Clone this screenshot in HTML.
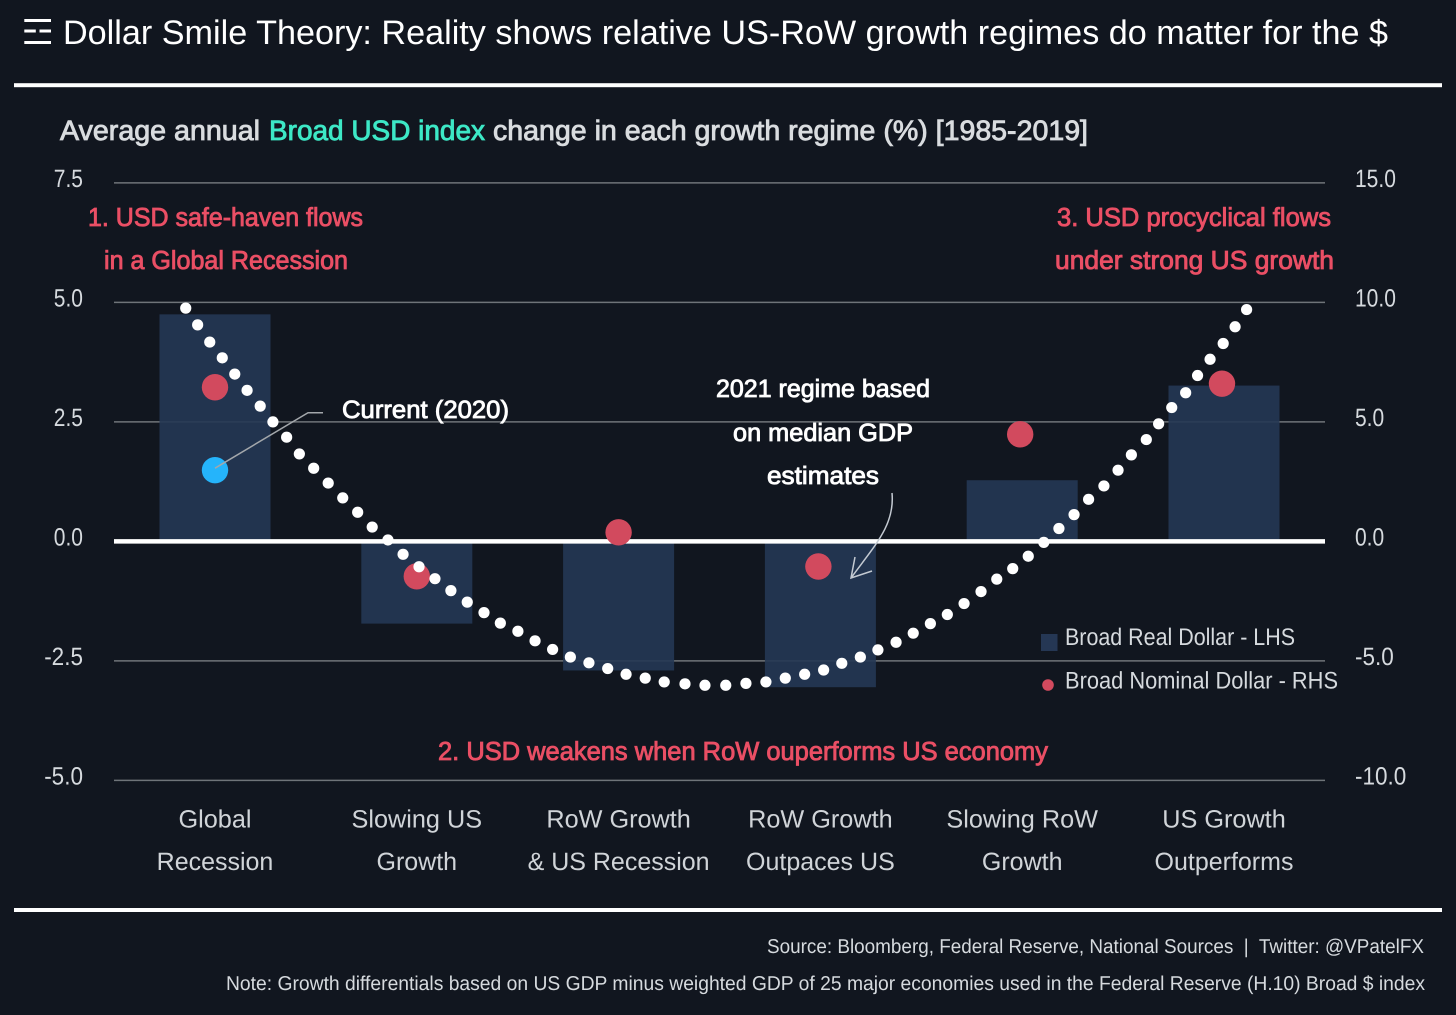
<!DOCTYPE html>
<html lang="en">
<head>
<meta charset="utf-8">
<title>Dollar Smile Theory</title>
<style>
html,body{margin:0;padding:0;background:#11161f;}
svg{display:block;font-family:"Liberation Sans",sans-serif;text-rendering:geometricPrecision;}
.med{stroke-width:.85px;}
</style>
</head>
<body>
<svg id="chart" xmlns="http://www.w3.org/2000/svg" width="1456" height="1015" viewBox="0 0 1456 1015">
  <rect x="0" y="0" width="1456" height="1015" fill="#11161f"/>
  <g fill="#ffffff">
    <rect x="24.3" y="19" width="26.7" height="3"/>
    <rect x="24.3" y="29.5" width="11.5" height="3"/>
    <rect x="39.5" y="29.5" width="11.5" height="3"/>
    <rect x="24.3" y="41" width="26.7" height="3"/>
  </g>
  <text x="63" y="44" font-size="34" fill="#ffffff" textLength="1325" lengthAdjust="spacingAndGlyphs">Dollar Smile Theory: Reality shows relative US-RoW growth regimes do matter for the $</text>
  <rect x="14" y="83.2" width="1428" height="4" fill="#ffffff"/>

  <text class="med" x="60" y="140" font-size="28" fill="#d9dcdf" stroke="#d9dcdf" textLength="200" lengthAdjust="spacingAndGlyphs">Average annual</text>
  <text class="med" x="269" y="140" font-size="28" fill="#3de8c6" stroke="#3de8c6" textLength="216" lengthAdjust="spacingAndGlyphs">Broad USD index</text>
  <text class="med" x="493" y="140" font-size="28" fill="#d9dcdf" stroke="#d9dcdf" textLength="595" lengthAdjust="spacingAndGlyphs">change in each growth regime (%) [1985-2019]</text>

  <g id="grid"></g>
  <g id="bars"></g>
  <g id="zero"></g>
  <g id="nominal"></g>
  <g id="current"></g>
  <g id="smile"></g>
  <g id="ticksL"></g>
  <g id="ticksR"></g>
  <g id="cats"></g>

  <text class="med" x="88" y="226" font-size="26" fill="#ea4f65" stroke="#ea4f65" textLength="275" lengthAdjust="spacingAndGlyphs">1. USD safe-haven flows</text>
  <text class="med" x="104" y="269" font-size="26" fill="#ea4f65" stroke="#ea4f65" textLength="244" lengthAdjust="spacingAndGlyphs">in a Global Recession</text>
  <text class="med" x="1057" y="226" font-size="26" fill="#ea4f65" stroke="#ea4f65" textLength="274" lengthAdjust="spacingAndGlyphs">3. USD procyclical flows</text>
  <text class="med" x="1055" y="269" font-size="26" fill="#ea4f65" stroke="#ea4f65" textLength="279" lengthAdjust="spacingAndGlyphs">under strong US growth</text>
  <text class="med" x="438" y="760" font-size="26" fill="#ea4f65" stroke="#ea4f65" textLength="610" lengthAdjust="spacingAndGlyphs">2. USD weakens when RoW ouperforms US economy</text>

  <text class="med" x="342" y="418" font-size="25" fill="#ffffff" stroke="#ffffff" textLength="167" lengthAdjust="spacingAndGlyphs">Current (2020)</text>
  <text class="med" x="716" y="397" font-size="25" fill="#ffffff" stroke="#ffffff" textLength="214" lengthAdjust="spacingAndGlyphs">2021 regime based</text>
  <text class="med" x="733" y="441" font-size="25" fill="#ffffff" stroke="#ffffff" textLength="180" lengthAdjust="spacingAndGlyphs">on median GDP</text>
  <text class="med" x="767" y="484" font-size="25" fill="#ffffff" stroke="#ffffff" textLength="112" lengthAdjust="spacingAndGlyphs">estimates</text>
  <path d="M892 493 C895 525 875 545 851 578 M855 557 L851 578 L872 571" fill="none" stroke="#c4cad2" stroke-width="1.5"/>

  <rect x="1041" y="634" width="16.5" height="17" fill="#253754"/>
  <text x="1065" y="645" font-size="24" fill="#d6dade" textLength="230" lengthAdjust="spacingAndGlyphs">Broad Real Dollar - LHS</text>
  <circle cx="1048" cy="685" r="5.8" fill="#d24a5e"/>
  <text x="1065" y="688.5" font-size="24" fill="#d6dade" textLength="273" lengthAdjust="spacingAndGlyphs">Broad Nominal Dollar - RHS</text>

  <rect x="14" y="908" width="1428" height="4" fill="#ffffff"/>
  <text x="767" y="953" font-size="20" fill="#d6dade" textLength="657" lengthAdjust="spacingAndGlyphs">Source: Bloomberg, Federal Reserve, National Sources &#160;|&#160; Twitter: @VPatelFX</text>
  <text x="226" y="990" font-size="20" fill="#d6dade" textLength="1199" lengthAdjust="spacingAndGlyphs">Note: Growth differentials based on US GDP minus weighted GDP of 25 major economies used in the Federal Reserve (H.10) Broad $ index</text>
</svg>
<script>
var categoriesLine1 = ["Global", "Slowing US", "RoW Growth", "RoW Growth", "Slowing RoW", "US Growth"];
var categoriesLine2 = ["Recession", "Growth", "& US Recession", "Outpaces US", "Growth", "Outperforms"];
var realDollar = [4.75, -1.72, -2.70, -3.05, 1.28, 3.26];
var nominalPosition = [0, 1, 2, 2.99, 3.99, 4.99];
var nominalDollar = [6.45, -1.46, 0.38, -1.05, 4.48, 6.60];
var currentCategory = 0;
var currentReal = 1.49;
var leftTickValues = [7.5, 5, 2.5, 0, -2.5, -5];
var leftTickLabels = ["7.5", "5.0", "2.5", "0.0", "-2.5", "-5.0"];
var rightTickValues = [15, 10, 5, 0, -5, -10];
var rightTickLabels = ["15.0", "10.0", "5.0", "0.0", "-5.0", "-10.0"];
var smilePosition = [-0.145,-0.086,-0.026,0.036,0.098,0.159,0.224,0.287,0.355,0.418,0.489,0.561,0.633,0.707,0.779,0.857,0.932,1.011,1.090,1.169,1.250,1.333,1.414,1.501,1.586,1.673,1.761,1.853,1.946,2.037,2.132,2.226,2.329,2.428,2.531,2.631,2.730,2.826,2.922,3.016,3.106,3.198,3.285,3.375,3.460,3.545,3.629,3.712,3.796,3.874,3.953,4.030,4.107,4.182,4.257,4.329,4.405,4.475,4.541,4.615,4.676,4.741,4.810,4.869,4.931,4.996,5.055,5.112];
var smileValue = [4.88,4.53,4.17,3.84,3.50,3.16,2.83,2.50,2.18,1.83,1.53,1.22,0.91,0.61,0.30,0.03,-0.27,-0.53,-0.78,-1.03,-1.27,-1.49,-1.71,-1.88,-2.08,-2.26,-2.42,-2.54,-2.66,-2.78,-2.86,-2.94,-2.98,-3.01,-3.01,-2.97,-2.94,-2.86,-2.78,-2.69,-2.55,-2.42,-2.27,-2.11,-1.92,-1.72,-1.53,-1.30,-1.05,-0.79,-0.57,-0.31,-0.02,0.27,0.56,0.88,1.16,1.49,1.81,2.13,2.46,2.80,3.11,3.47,3.81,4.14,4.49,4.85];

var NS = "http://www.w3.org/2000/svg";
var plotLeft = 114, plotRight = 1325, zeroY = 541.4, unitL = 47.8, unitR = 23.9, firstX = 215, stepX = 201.8, barW = 111;
function xAt(p) { return firstX + p * stepX; }
function yL(v) { return zeroY - unitL * v; }
function yR(v) { return zeroY - unitR * v; }
function mk(parent, tag, attrs) {
  var el = document.createElementNS(NS, tag);
  for (var k in attrs) el.setAttribute(k, attrs[k]);
  document.getElementById(parent).appendChild(el);
  return el;
}
function condense(el, f) {
  el.setAttribute('textLength', (el.getComputedTextLength() * f).toFixed(1));
  el.setAttribute('lengthAdjust', 'spacingAndGlyphs');
}
function tickFit(label) { return label.charAt(0) === '-' ? 0.9 : 0.84; }

leftTickValues.forEach(function (v) {
  if (v === 0) return;
  var line = mk('grid', 'line', {x1: plotLeft, x2: plotRight, y1: yL(v), y2: yL(v), stroke: '#6f7479', 'stroke-width': 1.5});
  
  
});

realDollar.forEach(function (v, i) {
  var top = v >= 0 ? yL(v) : zeroY;
  var bar = mk('bars', 'rect', {x: xAt(i) - barW / 2, y: top, width: barW, height: Math.abs(yL(v) - zeroY), fill: '#253754', opacity: 0.9});
  
  
});

var zeroLine = mk('zero', 'line', {x1: plotLeft, x2: plotRight, y1: yL(0), y2: yL(0), stroke: '#ffffff', 'stroke-width': 4.5});



nominalDollar.forEach(function (v, i) {
  var dot = mk('nominal', 'circle', {cx: xAt(nominalPosition[i]), cy: yR(v), r: 13.2, fill: '#d24a5e'});
  
  
});

var curX = xAt(currentCategory), curY = yL(currentReal);
var curDot = mk('current', 'circle', {cx: curX, cy: curY, r: 13.2, fill: '#25b4fb'});


var leader = mk('current', 'polyline', {points: curX + ',' + (curY - 2) + ' 308,412.7 323,412.7', fill: 'none', stroke: '#a3a7ab', 'stroke-width': 1.5});



smilePosition.forEach(function (p, i) {
  var dot = mk('smile', 'circle', {cx: xAt(p), cy: yL(smileValue[i]), r: 5.6, fill: '#ffffff'});
  
  
});

leftTickValues.forEach(function (v, i) {
  var t = mk('ticksL', 'text', {x: 83, y: yL(v) + 4, 'text-anchor': 'end', 'font-size': 25, fill: '#d6dade'});
  t.textContent = leftTickLabels[i];
  
  
  condense(t, tickFit(leftTickLabels[i]));
});

rightTickValues.forEach(function (v, i) {
  var t = mk('ticksR', 'text', {x: 1355, y: yR(v) + 4, 'font-size': 25, fill: '#d6dade'});
  t.textContent = rightTickLabels[i];
  
  
  condense(t, tickFit(rightTickLabels[i]));
});

categoriesLine1.forEach(function (c, i) {
  var a = mk('cats', 'text', {x: xAt(i), y: 827.5, 'text-anchor': 'middle', 'font-size': 25, fill: '#d0d4d8'});
  a.textContent = c;
  
  
  condense(a, 1.01);
  var b = mk('cats', 'text', {x: xAt(i), y: 870, 'text-anchor': 'middle', 'font-size': 25, fill: '#d0d4d8'});
  b.textContent = categoriesLine2[i];
  
  
  condense(b, 1.0);
});
</script>
</body>
</html>
